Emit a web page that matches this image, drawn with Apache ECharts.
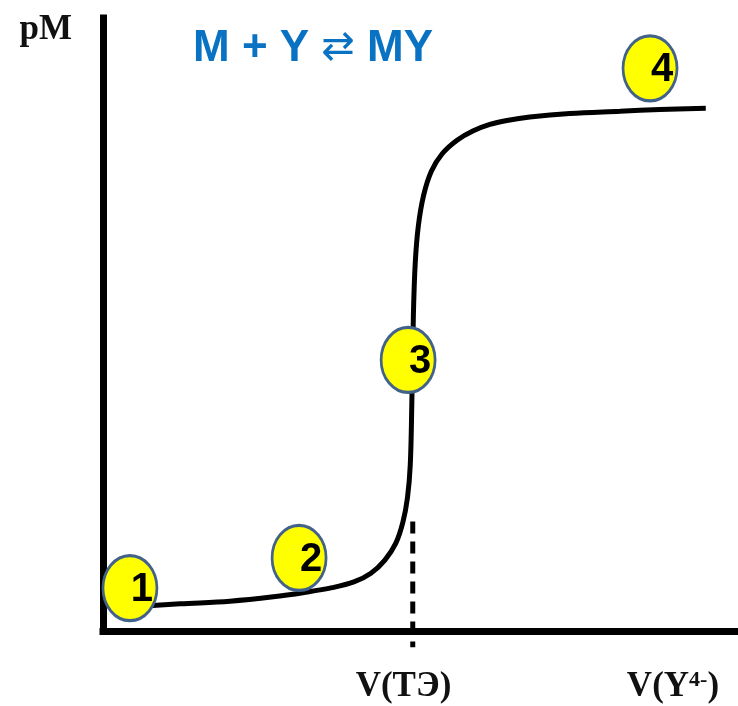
<!DOCTYPE html>
<html>
<head>
<meta charset="utf-8">
<script src="https://cdn.jsdelivr.net/npm/echarts@6/dist/echarts.min.js"></script>
<style>
  html, body { margin: 0; padding: 0; background: #fff; }
  #chart { width: 738px; height: 706px; }
</style>
</head>
<body>
<div id="chart"></div>
<script>
// titration curve: volume of titrant vs pM
const volume = [8.7, 24.9, 41.0, 55.0, 65.0, 74.0, 81.0, 86.5, 91.0, 94.5, 96.8, 98.3, 99.2, 99.7, 100.2, 100.8, 101.8, 103.5, 106.0, 109.5, 114.3, 119.4, 124.9, 130.4, 137.8, 150.7, 166.9, 179.8, 194.6];
const pM = [0.55, 0.62, 0.68, 0.78, 0.88, 0.99, 1.12, 1.32, 1.62, 2.00, 2.48, 3.05, 3.80, 5.20, 7.20, 8.40, 9.25, 9.95, 10.50, 10.90, 11.21, 11.42, 11.57, 11.66, 11.74, 11.82, 11.87, 11.91, 11.94];

// numbered points on the curve
const pointLabels = ["1", "2", "3", "4"];
const pointVolume = [8.7, 63.3, 98.5, 176.6];
const pointPM = [0.98, 1.67, 6.19, 12.85];

// equivalence point and axis labels
const eqVolume = 100;
const eqLine = [2.5, -0.37];
const tickValues = [97, 184];
const tickLabels = ["V(TЭ)", "{b|V(Y}{s|4-}{b|)}"];

const chart = echarts.init(document.getElementById("chart"));

const ellipse = "path://M50,0 A50,50 0 1,1 50,100 A50,50 0 1,1 50,0 Z";
const serif = "Liberation Serif, Times New Roman, serif";

const option = {
  animation: false,
  title: {
    text: "M + Y {a|\u21C4} MY",
    left: 188,
    top: 22,
    textStyle: {
      color: "#0a72c2",
      fontSize: 44,
      fontWeight: "bold",
      fontFamily: "Liberation Sans, Arial, sans-serif",
      rich: {
        a: {
          color: "#0a72c2",
          fontSize: 40,
          fontWeight: "normal",
          fontFamily: "DejaVu Sans, sans-serif",
        },
      },
    },
  },
  grid: {
    left: 103,
    right: 0,
    top: 18,
    bottom: 75,
    containLabel: false,
  },
  xAxis: {
    type: "value",
    min: 0,
    max: 205,
    axisLine: {
      show: true,
      lineStyle: { color: "#000", width: 7, cap: "square" },
    },
    axisTick: { show: false },
    splitLine: { show: false },
    axisLabel: {
      show: true,
      customValues: tickValues,
      margin: 38,
      color: "#111",
      fontSize: 35,
      fontWeight: "bold",
      fontFamily: serif,
      formatter: (v) => tickLabels[tickValues.indexOf(v)] || "",
      rich: {
        b: {
          fontSize: 35,
          fontWeight: "bold",
          fontFamily: serif,
          color: "#111",
          verticalAlign: "bottom",
        },
        s: {
          fontSize: 22,
          fontWeight: "bold",
          fontFamily: serif,
          color: "#111",
          verticalAlign: "top",
        },
      },
    },
  },
  yAxis: {
    type: "value",
    min: 0,
    max: 14,
    name: "pM",
    nameLocation: "end",
    nameGap: 6,
    nameTextStyle: {
      color: "#111",
      fontSize: 35,
      fontWeight: "bold",
      fontFamily: serif,
      align: "right",
      verticalAlign: "top",
      padding: [0, 31, 0, 0],
    },
    axisLine: {
      show: true,
      lineStyle: { color: "#000", width: 7, cap: "square" },
    },
    axisTick: { show: false },
    splitLine: { show: false },
    axisLabel: { show: false },
  },
  series: [
    {
      name: "curve",
      type: "line",
      data: volume.map((v, i) => [v, pM[i]]),
      smooth: 0.35,
      showSymbol: false,
      lineStyle: { color: "#000", width: 5 },
      silent: true,
      z: 2,
    },
    {
      name: "equivalence",
      type: "line",
      data: eqLine.map((y) => [eqVolume, y]),
      showSymbol: false,
      clip: false,
      lineStyle: { color: "#000", width: 5, type: [12, 8] },
      silent: true,
      z: 2,
    },
    {
      name: "points",
      type: "scatter",
      data: pointVolume.map((v, i) => [v, pointPM[i]]),
      symbol: ellipse,
      symbolSize: [54, 65],
      itemStyle: {
        color: "#ffff00",
        borderColor: "#43628a",
        borderWidth: 3,
        opacity: 1,
      },
      label: {
        show: true,
        position: "inside",
        offset: [12, 2],
        formatter: (p) => pointLabels[p.dataIndex],
        color: "#000",
        fontSize: 40,
        fontWeight: "bold",
        fontFamily: "Liberation Sans, Arial, sans-serif",
      },
      silent: true,
      z: 3,
    },
  ],
};

chart.setOption(option);
</script>
</body>
</html>
